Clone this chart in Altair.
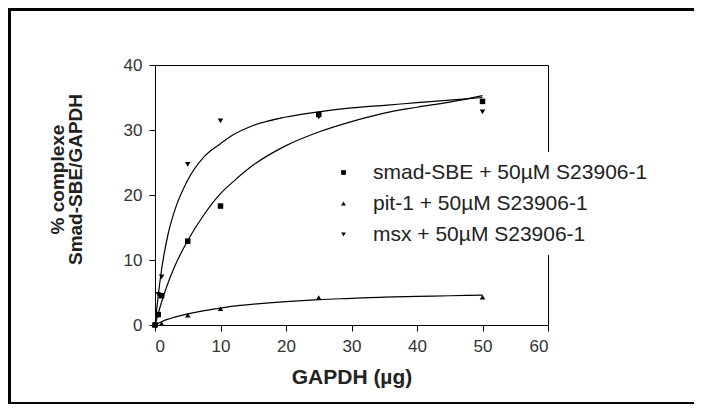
import altair as alt
import pandas as pd

# ---- data ----
series = ["smad-SBE + 50µM S23906-1", "pit-1 + 50µM S23906-1", "msx + 50µM S23906-1"]
shapes = ["square", "triangle-up", "triangle-down"]

smad_x = [0, 0.5, 1, 5, 10, 25, 50]
smad_y = [0, 1.6, 4.5, 12.9, 18.3, 32.4, 34.4]
pit_x = [0, 1, 5, 10, 25, 50]
pit_y = [0, 0.2, 1.5, 2.5, 4.2, 4.3]
msx_x = [0, 0.5, 1, 5, 10, 25, 50]
msx_y = [0, 4.7, 7.4, 24.7, 31.4, 32.0, 32.8]

# fitted curves as drawn in the picture
curve_x = [0, 0.5, 1, 2, 3, 5, 7.5, 10, 12, 15, 20, 25, 30, 35, 40, 45, 50]
smad_curve = [0, 1.8, 3.5, 6.5, 9.0, 13.0, 17.0, 20.2, 22.1, 24.6, 27.6, 29.7, 31.3, 32.6, 33.5, 34.3, 35.3]
pit_curve = [0, 0.25, 0.5, 0.9, 1.2, 1.7, 2.2, 2.6, 2.9, 3.2, 3.6, 3.9, 4.1, 4.3, 4.4, 4.5, 4.6]
msx_curve = [0, 4.6, 8.5, 14.0, 17.6, 22.3, 25.9, 27.9, 29.3, 30.7, 32.0, 32.8, 33.4, 33.8, 34.2, 34.6, 35.0]

x_ticks = [0, 10, 20, 30, 40, 50, 60]
y_ticks = [0, 10, 20, 30, 40]

pts = pd.concat([
    pd.DataFrame({"x": smad_x, "y": smad_y, "s": series[0]}),
    pd.DataFrame({"x": pit_x, "y": pit_y, "s": series[1]}),
    pd.DataFrame({"x": msx_x, "y": msx_y, "s": series[2]}),
])
curves = pd.concat([
    pd.DataFrame({"x": curve_x, "y": smad_curve, "s": series[0]}),
    pd.DataFrame({"x": curve_x, "y": pit_curve, "s": series[1]}),
    pd.DataFrame({"x": curve_x, "y": msx_curve, "s": series[2]}),
])

FONT = "Liberation Sans, Arial, sans-serif"

xscale = alt.Scale(domain=[0, 60], nice=False)
yscale = alt.Scale(domain=[0, 40], nice=False)

xaxis = alt.Axis(values=x_ticks, title="GAPDH (µg)", grid=False, tickSize=6,
                 labelPadding=7, titlePadding=12, titleFont=FONT,
                 titleFontSize=21, titleFontWeight="bold", titleColor="#222")
yaxis = alt.Axis(values=y_ticks, title=["% complexe", "Smad-SBE/GAPDH"], grid=False,
                 tickSize=6, labelPadding=7, titlePadding=38, titleFont=FONT,
                 titleFontSize=19, titleLineHeight=18, titleFontWeight="bold",
                 titleColor="#222", titleY=114)

lines = alt.Chart(curves).mark_line(color="black", strokeWidth=1.2, interpolate="monotone").encode(
    x=alt.X("x:Q", scale=xscale, axis=xaxis),
    y=alt.Y("y:Q", scale=yscale, axis=yaxis),
    detail="s:N",
)

points = alt.Chart(pts).mark_point(filled=True, color="black", opacity=1, size=30).encode(
    x=alt.X("x:Q", scale=xscale),
    y=alt.Y("y:Q", scale=yscale),
    shape=alt.Shape("s:N", sort=series,
                    scale=alt.Scale(domain=series, range=shapes),
                    legend=alt.Legend(title=None, orient="none", legendX=168, legendY=87,
                                      fillColor="white", padding=10, rowPadding=9,
                                      labelFont=FONT, labelFontSize=21, labelColor="#222",
                                      labelOffset=19, symbolSize=22, symbolFillColor="black",
                                      symbolStrokeColor="black", labelLimit=400)),
)

one = pd.DataFrame({"k": [0]})
frame_left = alt.Chart(one).mark_rule(color="black", strokeWidth=3).encode(
    x=alt.value(-145.5), y=alt.value(-55.5), y2=alt.value(338.5))
frame_top = alt.Chart(one).mark_rule(color="black", strokeWidth=3).encode(
    x=alt.value(-147), x2=alt.value(560), y=alt.value(-55.5))
frame_bottom = alt.Chart(one).mark_rule(color="black", strokeWidth=3).encode(
    x=alt.value(-147), x2=alt.value(560), y=alt.value(338.5))

chart = alt.layer(lines, points, frame_left, frame_top, frame_bottom).properties(
    width=393, height=260,
    autosize=alt.AutoSizeParams(type="none"),
    padding={"left": 147, "top": 57, "right": 146, "bottom": 79},
    background="white",
).configure_view(stroke="black", strokeWidth=1).configure_axis(
    domainColor="black", tickColor="black", labelFont=FONT, labelFontSize=17,
    labelColor="#333", domainWidth=1, tickWidth=1,
)

chart.save("out.html", embed_options={"renderer": "svg", "actions": False})
